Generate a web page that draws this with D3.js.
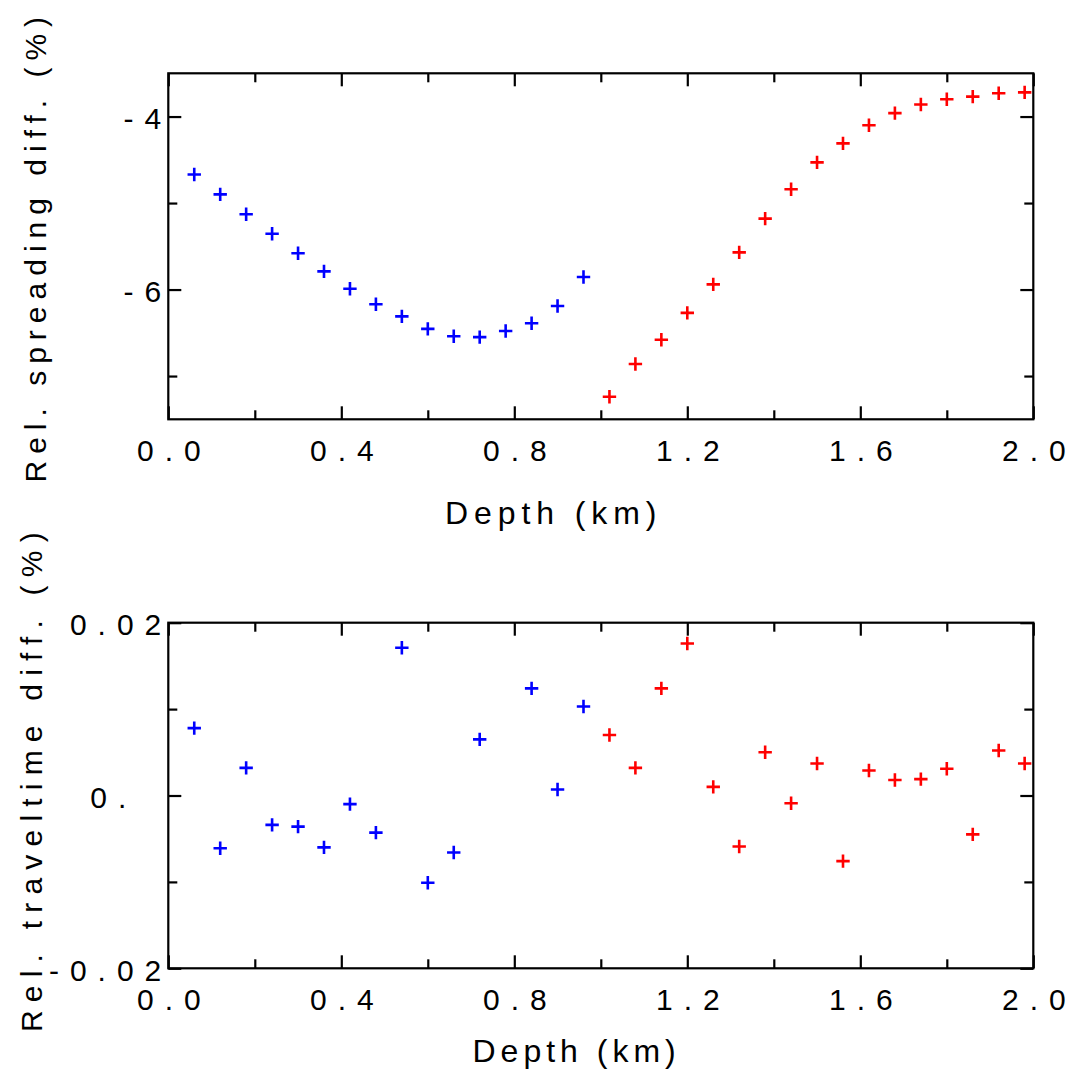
<!DOCTYPE html>
<html>
<head>
<meta charset="utf-8">
<script src="https://cdn.jsdelivr.net/npm/d3@7"></script>
<style>
  html, body { margin: 0; padding: 0; background: #fff; }
  svg { display: block; }
  text { font-family: "Liberation Sans", Arial, Helvetica, sans-serif; fill: #000; }
</style>
</head>
<body>
<svg id="chart" width="1077" height="1072"></svg>
<script>
// ---------------- data ----------------
const depthBlue = [0.06, 0.12, 0.18, 0.24, 0.30, 0.36, 0.42, 0.48, 0.54, 0.60, 0.66, 0.72, 0.78, 0.84, 0.90, 0.96];
const depthRed  = [1.02, 1.08, 1.14, 1.20, 1.26, 1.32, 1.38, 1.44, 1.50, 1.56, 1.62, 1.68, 1.74, 1.80, 1.86, 1.92, 1.98];

const spreadBlue = [-4.67, -4.90, -5.13, -5.355, -5.58, -5.79, -5.99, -6.17, -6.31, -6.455, -6.54, -6.55, -6.48, -6.39, -6.19, -5.855];
const spreadRed  = [-7.24, -6.86, -6.58, -6.27, -5.94, -5.57, -5.18, -4.84, -4.53, -4.31, -4.10, -3.96, -3.86, -3.80, -3.77, -3.73, -3.72];

const travelBlue = [0.0078, -0.0061, 0.0032, -0.0034, -0.0036, -0.0060, -0.0010, -0.0043, 0.0171, -0.0101, -0.0066, 0.0065, null, 0.0124, 0.0007, 0.0103];
const travelRed  = [0.0070, 0.0032, 0.0124, 0.0176, 0.0010, -0.0059, 0.0050, -0.0009, 0.0037, -0.0076, 0.0029, 0.0018, 0.0019, 0.0031, -0.0045, 0.0052, 0.0037];

const xMajorTicks = [0.0, 0.4, 0.8, 1.2, 1.6, 2.0];
const xMinorTicks = [0.2, 0.6, 1.0, 1.4, 1.8];
const xTickLabels = ["0.0", "0.4", "0.8", "1.2", "1.6", "2.0"];

const ySpreadMajor = [-4, -6];
const ySpreadMinor = [-5, -7];
const ySpreadLabels = ["-4", "-6"];

const yTravelMajor = [-0.02, 0, 0.02];
const yTravelMinor = [-0.01, 0.01];
const yTravelLabels = ["-0.02", "0.", "0.02"];

const colorBlue = "#0000ff";
const colorRed = "#ff0000";

// ---------------- layout ----------------
const svg = d3.select("#chart");
const left = 168.3, right = 1033.3;
const panels = [
  {
    top: 73.3, bottom: 419.3, domain: [-7.5, -3.5],
    blue: spreadBlue, red: spreadRed,
    yMajor: ySpreadMajor, yMinor: ySpreadMinor, yLabels: ySpreadLabels,
    title: "Rel. spreading diff. (%)", titleX: 46.4, titleY: 482.5, titleLS: 7,
    xTitleX: 445, xTitleY: 524.3, xTitleLS: 5.9,
    labelOffsets: {}
  },
  {
    top: 622.7, bottom: 968.3, domain: [-0.02, 0.02],
    blue: travelBlue, red: travelRed,
    yMajor: yTravelMajor, yMinor: yTravelMinor, yLabels: yTravelLabels,
    title: "Rel. traveltime diff. (%)", titleX: 42, titleY: 1032, titleLS: 8.2,
    xTitleX: 472.5, xTitleY: 1061.7, xTitleLS: 5.0,
    labelOffsets: {"0.": -35}
  }
];

const tickFont = 30, tickLS = 11;
const majorLen = 13, minorLen = 9;
const plus = "M-6.7,0H6.7M0,-6.7V6.7";

panels.forEach(p => {
  const x = d3.scaleLinear().domain([0, 2]).range([left, right]);
  const y = d3.scaleLinear().domain(p.domain).range([p.bottom, p.top]);
  const g = svg.append("g");

  const styleAxis = sel => {
    sel.select(".domain").remove();
    sel.selectAll(".tick line").attr("stroke", "#000").attr("stroke-width", 2.2);
  };

  // bottom major with labels
  const bx = g.append("g").attr("transform", `translate(0,${p.bottom})`)
    .call(d3.axisBottom(x).tickValues(xMajorTicks).tickSize(-majorLen)
      .tickFormat((d, i) => xTickLabels[i]));
  styleAxis(bx);
  bx.selectAll(".tick text")
    .attr("y", 41.5).attr("dy", 0).attr("dx", tickLS / 2)
    .style("font-size", tickFont + "px").style("letter-spacing", tickLS + "px")
    .style("font-family", '"Liberation Sans", Arial, sans-serif').attr("fill", "#000");

  const bxm = g.append("g").attr("transform", `translate(0,${p.bottom})`)
    .call(d3.axisBottom(x).tickValues(xMinorTicks).tickSize(-minorLen).tickFormat(""));
  styleAxis(bxm);

  // top
  const tx = g.append("g").attr("transform", `translate(0,${p.top})`)
    .call(d3.axisTop(x).tickValues(xMajorTicks).tickSize(-majorLen).tickFormat(""));
  styleAxis(tx);
  const txm = g.append("g").attr("transform", `translate(0,${p.top})`)
    .call(d3.axisTop(x).tickValues(xMinorTicks).tickSize(-minorLen).tickFormat(""));
  styleAxis(txm);

  // left major with labels
  const ly = g.append("g").attr("transform", `translate(${left},0)`)
    .call(d3.axisLeft(y).tickValues(p.yMajor).tickSize(-majorLen)
      .tickFormat((d, i) => p.yLabels[i]));
  styleAxis(ly);
  ly.selectAll(".tick text")
    .attr("x", d => -7 + tickLS + (p.labelOffsets[p.yLabels[p.yMajor.indexOf(d)]] || 0))
    .attr("dy", 12)
    .style("font-size", tickFont + "px").style("letter-spacing", tickLS + "px")
    .style("font-family", '"Liberation Sans", Arial, sans-serif').attr("fill", "#000");
  const lym = g.append("g").attr("transform", `translate(${left},0)`)
    .call(d3.axisLeft(y).tickValues(p.yMinor).tickSize(-minorLen).tickFormat(""));
  styleAxis(lym);

  // right
  const ry = g.append("g").attr("transform", `translate(${right},0)`)
    .call(d3.axisRight(y).tickValues(p.yMajor).tickSize(-majorLen).tickFormat(""));
  styleAxis(ry);
  const rym = g.append("g").attr("transform", `translate(${right},0)`)
    .call(d3.axisRight(y).tickValues(p.yMinor).tickSize(-minorLen).tickFormat(""));
  styleAxis(rym);

  // frame
  g.append("rect")
    .attr("x", left).attr("y", p.top)
    .attr("width", right - left).attr("height", p.bottom - p.top)
    .attr("fill", "none").attr("stroke", "#000").attr("stroke-width", 2.2);

  // points
  const series = [
    {depth: depthBlue, vals: p.blue, color: colorBlue},
    {depth: depthRed, vals: p.red, color: colorRed}
  ];
  series.forEach(s => {
    const pts = s.depth.map((d, i) => ({d, v: s.vals[i]})).filter(o => o.v !== null);
    g.append("g").selectAll("path").data(pts).join("path")
      .attr("d", plus)
      .attr("transform", o => `translate(${x(o.d)},${y(o.v)})`)
      .attr("stroke", s.color).attr("stroke-width", 2.6).attr("fill", "none");
  });

  // titles
  g.append("text")
    .attr("x", p.xTitleX).attr("y", p.xTitleY)
    .attr("text-anchor", "start")
    .style("font-size", "32px").style("letter-spacing", p.xTitleLS + "px")
    .text("Depth (km)");

  g.append("text")
    .attr("transform", `translate(${p.titleX},${p.titleY}) rotate(-90)`)
    .attr("text-anchor", "start")
    .style("font-size", "30px").style("letter-spacing", p.titleLS + "px")
    .text(p.title);
});
</script>
</body>
</html>
